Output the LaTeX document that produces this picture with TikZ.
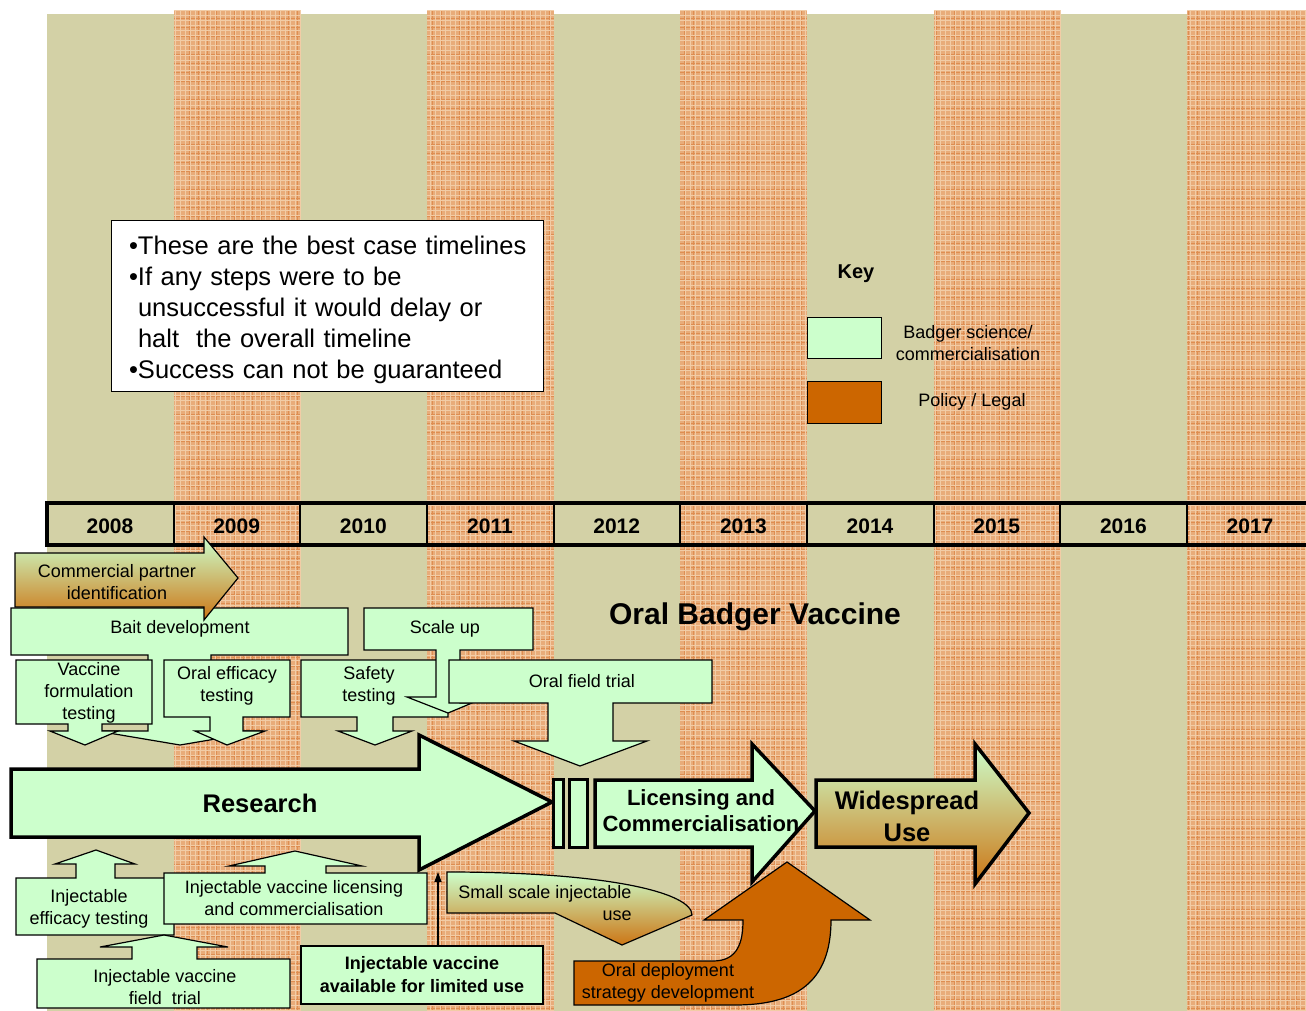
\documentclass[tikz,border=0pt]{standalone}
\usepackage{fontspec}
\setmainfont{Liberation Sans}
\usetikzlibrary{arrows.meta}
\definecolor{sciGreen}{RGB}{204,255,204}
\definecolor{polOrange}{RGB}{204,102,0}
\definecolor{bgBeige}{RGB}{211,209,166}
\definecolor{plaid}{RGB}{232,172,122}
\definecolor{plaidLight}{RGB}{242,204,166}
\definecolor{plaidDark}{RGB}{222,142,82}
\tikzset{
  callout/.style={draw, fill=sciGreen, line width=1.2pt, line join=miter},
  bigarrow/.style={draw, fill=sciGreen, line width=3.5pt, line join=miter},
  fade/.style={draw, line width=1.2pt, top color=sciGreen, bottom color=polOrange!90!sciGreen},
  lbl/.style={align=center, yshift=-2pt, font=\fontsize{18}{22}\selectfont},
  boldlbl/.style={align=center, font=\fontsize{18}{23}\selectfont\bfseries},
}
\begin{document}
\begin{tikzpicture}[x=1pt,y=-1pt]
\useasboundingbox (0,0) rectangle (1306,1011);
\clip (0,0) rectangle (1306,1011);
% Year columns
\fill[bgBeige] (47,14) rectangle (1306,1011);
\foreach \i in {1,3,5,7,9} {
  \fill[plaid] ({47+126.67*\i},10) rectangle ({47+126.67*(\i+1)},1011);
  \draw[plaidDark, line width=.5pt, step=9pt] ({47+126.67*\i},10) grid ({47+126.67*(\i+1)},1011);
  \draw[plaidLight, line width=.5pt, step=5pt] ({47+126.67*\i},10) grid ({47+126.67*(\i+1)},1011);
}
% Year bar
\draw[line width=4pt] (47,503) rectangle (1330,545);
\foreach \i in {1,...,9}
  \draw[line width=2pt] ({47+126.67*\i},503) -- ({47+126.67*\i},545);
\foreach \yr [count=\i from 0] in {2008,...,2017}
  \node[font=\fontsize{21}{24}\selectfont\bfseries] (y\yr) at ({110+126.67*\i},526) {\yr};
% Note box
\node[draw, fill=white, line width=1pt, minimum width=432pt, minimum height=170pt] (note) at (327,306) {};
\node[text width=414pt, align=left, font=\fontsize{25.5}{31}\selectfont] (notetext) at (329,310) {%
  \makebox[16pt][r]{•}These are the best case timelines\\
  \makebox[16pt][r]{•}If any steps were to be\\
  \hspace*{16pt}unsuccessful it would delay or\\
  \hspace*{16pt}halt\ \ the overall timeline\\
  \makebox[16pt][r]{•}Success can not be guaranteed};
% Key
\node[font=\fontsize{20}{24}\selectfont\bfseries] (key) at (856,274) {Key};
\node[draw, fill=sciGreen, line width=1pt, minimum width=74pt, minimum height=41pt] (keysci) at (844,338) {};
\node[lbl] (keyscitxt) at (968,341) {Badger science/\\commercialisation};
\node[draw, fill=polOrange, line width=1pt, minimum width=74pt, minimum height=42pt] (keypol) at (844,402) {};
\node[lbl] (keypoltxt) at (972,400) {Policy / Legal};
% Title
\node[font=\fontsize{30}{34}\selectfont\bfseries] (title) at (755,617) {Oral Badger Vaccine};
% Bait development and commercial partner
\draw[callout] (11,608) -- (348,608) -- (348,655) -- (211,655) -- (211,731) -- (263,731) -- (180,745)
  -- (97,731) -- (148,731) -- (148,655) -- (11,655) -- cycle;
\node[lbl] (bait) at (180,627) {Bait development};
\draw[fade] (15,553) -- (204,553) -- (204,537) -- (238,578) -- (204,620) -- (204,607) -- (15,607) -- cycle;
\node[lbl] (partner) at (117,580) {Commercial partner\\identification};
% Oral research callouts
\draw[callout] (16,660) -- (152,660) -- (152,724) -- (102,724) -- (102,731) -- (118,731) -- (85,745)
  -- (50,731) -- (68,731) -- (68,724) -- (16,724) -- cycle;
\node[lbl] (vacform) at (89,691) {Vaccine\\formulation\\testing};
\draw[callout] (164,660) -- (290,660) -- (290,717) -- (243,717) -- (243,731) -- (265,731) -- (227,745)
  -- (195,731) -- (210,731) -- (210,717) -- (164,717) -- cycle;
\node[lbl] (oraleff) at (227,684) {Oral efficacy\\testing};
\draw[callout] (301,660) -- (448,660) -- (448,717) -- (393,717) -- (393,731) -- (412,731) -- (375,745)
  -- (338,731) -- (357,731) -- (357,717) -- (301,717) -- cycle;
\node[lbl] (safety) at (369,684) {Safety\\testing};
\draw[callout] (364,608) -- (533,608) -- (533,650) -- (460,650) -- (460,703) -- (472,703) -- (448,713)
  -- (407,697) -- (436,697) -- (436,650) -- (364,650) -- cycle;
\node[lbl] (scaleup) at (445,627) {Scale up};
\draw[callout] (449,660) -- (712,660) -- (712,703) -- (613,703) -- (613,741) -- (647,741) -- (580,766)
  -- (514,741) -- (548,741) -- (548,703) -- (449,703) -- cycle;
\node[lbl] (fieldtrial) at (582,679) {Oral field trial};
% Main stages
\draw[bigarrow] (11,769) -- (419,769) -- (419,735) -- (552,802) -- (419,870) -- (419,837) -- (11,837) -- cycle;
\node[font=\fontsize{25.5}{30}\selectfont\bfseries] (research) at (260,803) {Research};
\draw[bigarrow, line width=3pt] (553,779) rectangle (563,847);
\draw[bigarrow, line width=3pt] (569,779) rectangle (587,847);
\draw[bigarrow] (595,780) -- (752,780) -- (752,744) -- (815,811) -- (752,882) -- (752,847) -- (595,847) -- cycle;
\node[font=\fontsize{22}{26}\selectfont\bfseries, align=center] (licensing) at (701,811) {Licensing and\\Commercialisation};
\draw[fade, line width=3.5pt, line join=miter] (816,780) -- (975,780) -- (975,744) -- (1029,813) -- (975,884)
  -- (975,847) -- (816,847) -- cycle;
\node[font=\fontsize{25.5}{32}\selectfont\bfseries, align=center] (widespread) at (907,816) {Widespread\\Use};
% Injectable callouts
\draw[callout] (16,878) -- (76,878) -- (76,864) -- (55,864) -- (96,850) -- (135,864) -- (115,864)
  -- (115,878) -- (174,878) -- (174,935) -- (16,935) -- cycle;
\node[lbl] (injeff) at (89,907) {Injectable\\efficacy testing};
\draw[callout] (164,873) -- (265,873) -- (265,866) -- (229,866) -- (295,851) -- (362,866) -- (326,866)
  -- (326,873) -- (427,873) -- (427,924) -- (164,924) -- cycle;
\node[lbl] (injlic) at (294,896) {Injectable vaccine licensing\\and commercialisation};
\draw[callout] (37,959) -- (132,959) -- (132,947) -- (100,947) -- (164,935) -- (228,947) -- (197,947)
  -- (197,959) -- (290,959) -- (290,1008) -- (37,1008) -- cycle;
\node[lbl] (injfield) at (165,985) {Injectable vaccine\\field~ trial};
\node[draw, fill=sciGreen, line width=1.2pt, minimum width=242pt, minimum height=58pt, boldlbl] (avail) at (422,975)
  {Injectable vaccine\\available for limited use};
\coordinate (research-foot) at (438,872);
\draw[-{Triangle[length=10pt,width=7pt]}, line width=1.5pt] (avail.north -| research-foot) -- (research-foot);
% Small scale use and oral deployment
\draw[fade] (447,872) .. controls (610,872) and (692,893) .. (692,915) -- (622,945) -- (555,913) -- (447,913) -- cycle;
\node[lbl, align=right] (smallscale) at (545,901) {Small scale injectable\\use};
\draw[fill=polOrange, line width=1.2pt, line join=miter] (574,961) -- (713,961) .. controls (738,961) and (743,942) .. (743,920)
  -- (704,920) -- (787,862) -- (870,920) -- (831,920) .. controls (831,983) and (795,1005) .. (735,1005) -- (574,1005) -- cycle;
\node[lbl] (deploy) at (668,981) {Oral deployment\\strategy development};
\end{tikzpicture}
\end{document}
